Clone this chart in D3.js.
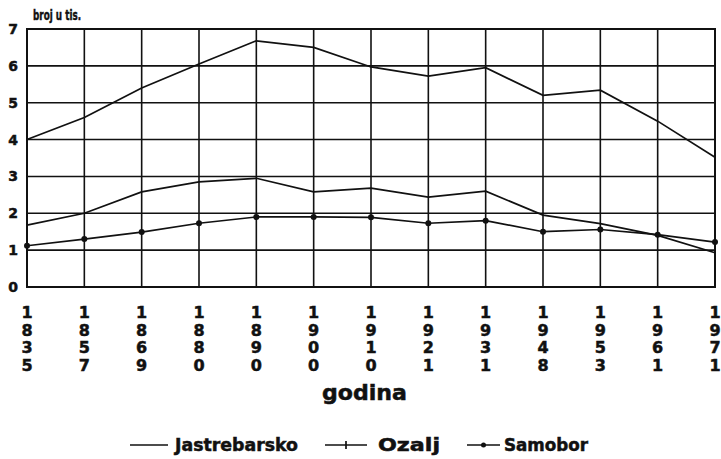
<!DOCTYPE html>
<html lang="hr">
<head>
    <meta charset="UTF-8">
    <title>broj u tis.</title>
    <style>
        body { margin: 0; background: #fff; }
        svg { display: block; }
        text {
            font-family: "DejaVu Sans", sans-serif;
            font-weight: bold;
            fill: #111;
            stroke: #111;
            stroke-width: 0.5px;
        }
        .grid line { stroke: #111; stroke-width: 1.6px; }
        .frame { fill: none; stroke: #111; stroke-width: 2px; }
        .series { fill: none; stroke: #111; stroke-width: 1.7px; }
    </style>
    <script src="https://d3js.org/d3.v7.min.js"></script>
</head>
<body>
<svg></svg>
<script>
    // census years (x axis)
    const years = ["1835", "1857", "1869", "1880", "1890", "1900", "1910",
                   "1921", "1931", "1948", "1953", "1961", "1971"];
    // population, thousands
    const jastrebarsko = [4.0, 4.6, 5.4, 6.05, 6.68, 6.5, 5.97, 5.72, 5.95, 5.2, 5.34, 4.5, 3.52];
    const ozalj        = [1.68, 2.0, 2.58, 2.85, 2.95, 2.58, 2.68, 2.44, 2.6, 1.95, 1.72, 1.4, 0.93];
    const samobor      = [1.12, 1.3, 1.49, 1.73, 1.9, 1.9, 1.89, 1.73, 1.8, 1.5, 1.56, 1.42, 1.22];
    const yTicks = [0, 1, 2, 3, 4, 5, 6, 7];

    const width = 721, height = 459;
    const margin = { top: 29, right: 6, bottom: 172, left: 27 };

    const svg = d3.select("svg").attr("width", width).attr("height", height);

    const x = d3.scalePoint()
        .domain(years)
        .range([margin.left, width - margin.right]);

    const y = d3.scaleLinear()
        .domain([0, 7])
        .range([height - margin.bottom, margin.top]);

    // grid
    const grid = svg.append("g").attr("class", "grid");
    grid.selectAll("line.h")
        .data(yTicks)
        .enter().append("line")
        .attr("x1", x.range()[0]).attr("x2", x.range()[1])
        .attr("y1", d => y(d)).attr("y2", d => y(d));
    grid.selectAll("line.v")
        .data(years)
        .enter().append("line")
        .attr("x1", d => x(d)).attr("x2", d => x(d))
        .attr("y1", y(0)).attr("y2", y(7));

    svg.append("rect")
        .attr("class", "frame")
        .attr("x", x.range()[0]).attr("y", y(7))
        .attr("width", x.range()[1] - x.range()[0])
        .attr("height", y(0) - y(7));

    // y labels
    svg.append("g")
        .selectAll("text")
        .data(yTicks)
        .enter().append("text")
        .attr("x", 13)
        .attr("y", d => y(d) + 5)
        .attr("text-anchor", "middle")
        .style("font-size", "14px")
        .text(d => d);

    svg.append("text")
        .attr("x", 33).attr("y", 20)
        .attr("textLength", 48)
        .attr("lengthAdjust", "spacingAndGlyphs")
        .style("font-size", "14px")
        .text("broj u tis.");

    // x labels, digits stacked
    const xl = svg.append("g")
        .selectAll("g")
        .data(years)
        .enter().append("g")
        .attr("transform", d => `translate(${x(d)},0)`);
    xl.selectAll("text")
        .data(d => d.split(""))
        .enter().append("text")
        .attr("y", (d, i) => 318 + i * 17.6)
        .attr("text-anchor", "middle")
        .style("font-size", "16px")
        .text(d => d);

    svg.append("text")
        .attr("x", 322).attr("y", 400)
        .attr("textLength", 85)
        .attr("lengthAdjust", "spacingAndGlyphs")
        .style("font-size", "21px")
        .text("godina");

    // lines
    const line = d3.line()
        .x((d, i) => x(years[i]))
        .y(d => y(d));

    [jastrebarsko, ozalj, samobor].forEach(s => {
        svg.append("path")
            .datum(s)
            .attr("class", "series")
            .attr("d", line);
    });

    svg.append("g")
        .selectAll("circle")
        .data(samobor)
        .enter().append("circle")
        .attr("cx", (d, i) => x(years[i]))
        .attr("cy", d => y(d))
        .attr("r", 3)
        .attr("fill", "#111");

    // legend
    const legend = [
        { name: "Jastrebarsko", x1: 130, x2: 168, tx: 175, tw: 123, mark: "dot" },
        { name: "Ozalj",        x1: 325, x2: 367, tx: 378, tw: 62,  mark: "plus" },
        { name: "Samobor",      x1: 467, x2: 500, tx: 504, tw: 84,  mark: "star" }
    ];
    const ly = 445;
    const lg = svg.append("g")
        .selectAll("g")
        .data(legend)
        .enter().append("g");
    lg.append("line")
        .attr("x1", d => d.x1).attr("x2", d => d.x2)
        .attr("y1", ly).attr("y2", ly)
        .attr("stroke", "#111").attr("stroke-width", 1.7);
    lg.filter(d => d.mark === "plus").append("line")
        .attr("x1", d => (d.x1 + d.x2) / 2).attr("x2", d => (d.x1 + d.x2) / 2)
        .attr("y1", ly - 4).attr("y2", ly + 4)
        .attr("stroke", "#111").attr("stroke-width", 1.7);
    lg.filter(d => d.mark === "star").append("circle")
        .attr("cx", d => (d.x1 + d.x2) / 2).attr("cy", ly)
        .attr("r", 2.5).attr("fill", "#111");
    lg.append("text")
        .attr("x", d => d.tx).attr("y", ly + 6)
        .attr("textLength", d => d.tw)
        .attr("lengthAdjust", "spacingAndGlyphs")
        .style("font-size", "17px")
        .text(d => d.name);
</script>
</body>
</html>
